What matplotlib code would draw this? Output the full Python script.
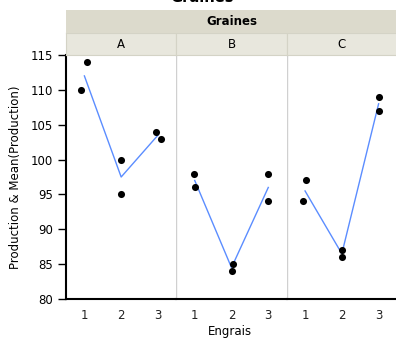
import matplotlib.pyplot as plt
import numpy as np

# Data
graines = ['A', 'B', 'C']
engrais = [1, 2, 3]
production = {
    'A': [[110, 114], [100, 95], [104, 103]],
    'B': [[98, 96], [85, 84], [98, 94]],
    'C': [[97, 94], [87, 86], [109, 107]],
}
# small horizontal jitter of the points (in x units)
jitter = {
    'A': [[-0.08, 0.08], [0.0, 0.0], [-0.05, 0.08]],
    'B': [[-0.02, 0.0], [0.04, 0.02], [0.0, -0.02]],
    'C': [[0.03, -0.05], [0.0, 0.0], [0.02, 0.0]],
}
y_ticks = [80, 85, 90, 95, 100, 105, 110, 115]

fig = plt.figure(figsize=(3.96, 3.40), dpi=100)
plt.rcParams['font.family'] = 'DejaVu Sans'

W, H = 396, 340
left, right = 66, 397
top, bottom = 55, 299
pw = (right - left) / 3

for i, g in enumerate(graines):
    ax = fig.add_axes([(left + i * pw) / W, 1 - bottom / H, pw / W, (bottom - top) / H])
    vals = production[g]
    means = [np.mean(v) for v in vals]
    ax.plot(engrais, means, color='#5b8dff', lw=1, zorder=2)
    for x, v, j in zip(engrais, vals, jitter[g]):
        ax.scatter(np.array(j) + x, v, s=26, color='black', zorder=3, linewidths=0)
    ax.set_xlim(0.5, 3.5)
    ax.set_ylim(80, 115)
    ax.set_xticks(engrais)
    ax.tick_params(axis='x', length=0, labelsize=8.5, pad=7, colors='#222222')
    for s in ['top', 'right', 'left']:
        ax.spines[s].set_visible(False)
    ax.spines['bottom'].set_linewidth(1.5)
    if i > 0:
        ax.axvline(0.5, color='#d0d0d0', lw=1)
        ax.set_yticks([])
    else:
        ax.spines['left'].set_visible(True)
        ax.spines['left'].set_linewidth(1.5)
        ax.set_yticks(y_ticks)
        ax.tick_params(axis='y', length=6, width=1, labelsize=8.5, colors='black')
    # strip with the group name
    strip = fig.add_axes([(left + i * pw) / W, 1 - top / H, pw / W, 22 / H])
    strip.set_facecolor('#e8e7dd')
    strip.set_xticks([])
    strip.set_yticks([])
    for s in strip.spines.values():
        s.set_color('#d4d3c6')
    strip.text(0.5, 0.5, g, ha='center', va='center', fontsize=8.5)

band = fig.add_axes([left / W, 1 - 33 / H, (right - left) / W, 23 / H])
band.set_facecolor('#dcdacc')
band.set_xticks([])
band.set_yticks([])
for s in band.spines.values():
    s.set_visible(False)
band.text(0.5, 0.5, 'Graines', ha='center', va='center', fontsize=8.5, fontweight='bold')

# title is mostly cut off at the top edge, as in the reference
fig.text(202 / W, 1 - 2.5 / H, 'Graines', ha='center', va='baseline', fontsize=10.5, fontweight='bold')
fig.text(16 / W, 1 - 177 / H, 'Production & Mean(Production)', rotation=90,
         ha='center', va='center', fontsize=8.5)
fig.text(230 / W, 1 - 332 / H, 'Engrais', ha='center', va='center', fontsize=8.5)

fig.savefig('out.png', dpi=100)
